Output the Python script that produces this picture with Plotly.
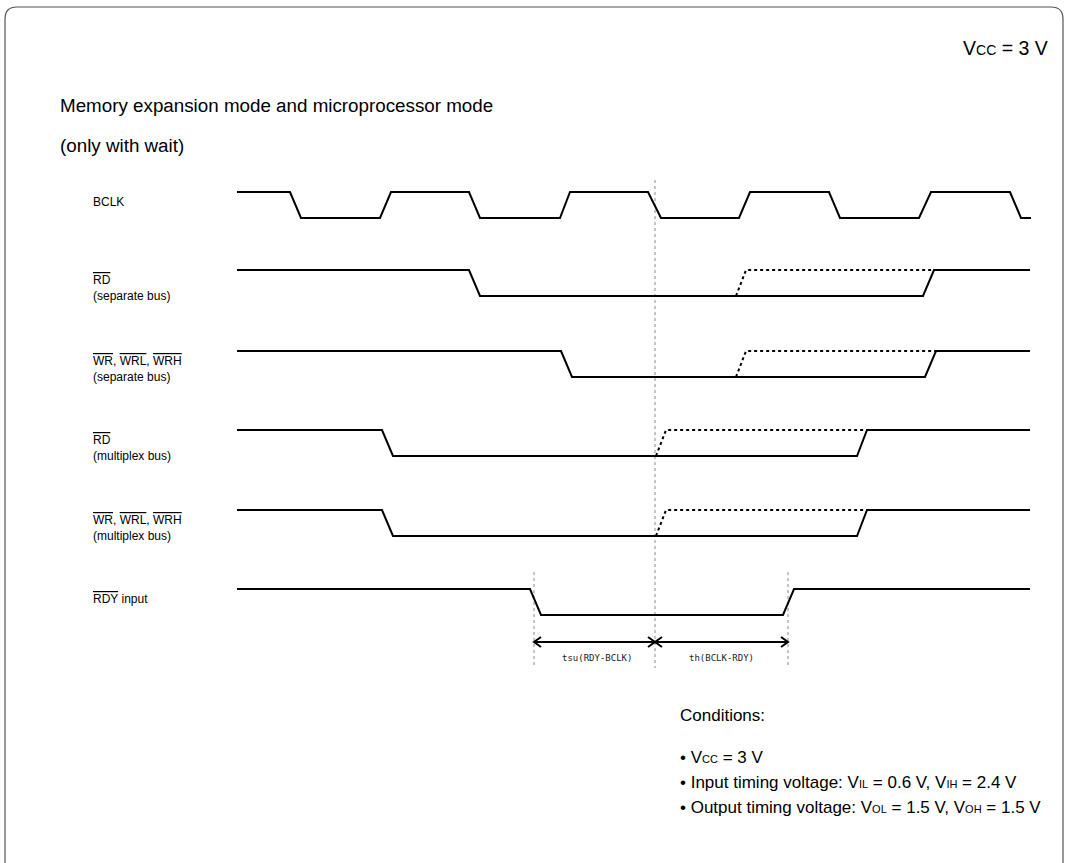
import plotly.graph_objects as go

# ---------------- data (time axis in arbitrary units) ----------------
signal_names = [
    "BCLK",
    "<span style='text-decoration:overline'>RD</span><br>(separate bus)",
    "<span style='text-decoration:overline'>WR</span>, <span style='text-decoration:overline'>WRL</span>, <span style='text-decoration:overline'>WRH</span><br>(separate bus)",
    "<span style='text-decoration:overline'>RD</span><br>(multiplex bus)",
    "<span style='text-decoration:overline'>WR</span>, <span style='text-decoration:overline'>WRL</span>, <span style='text-decoration:overline'>WRH</span><br>(multiplex bus)",
    "<span style='text-decoration:overline'>RDY</span> input",
]

bclk_t = [237, 290, 301, 380, 391, 469, 480, 560, 570, 648, 661, 739, 750, 829, 840, 919, 931, 1010, 1021, 1031]
bclk_v = [1, 1, 0, 0, 1, 1, 0, 0, 1, 1, 0, 0, 1, 1, 0, 0, 1, 1, 0, 0]

rd_sep_t = [237, 469, 480, 923, 934, 1030]
rd_sep_v = [1, 1, 0, 0, 1, 1]
rd_sep_alt_t = [736, 746, 934]
rd_sep_alt_v = [0, 1, 1]

wr_sep_t = [237, 561, 572, 925, 936, 1030]
wr_sep_v = [1, 1, 0, 0, 1, 1]
wr_sep_alt_t = [736, 746, 936]
wr_sep_alt_v = [0, 1, 1]

rd_mux_t = [237, 382, 393, 857, 867, 1030]
rd_mux_v = [1, 1, 0, 0, 1, 1]
rd_mux_alt_t = [656, 666, 867]
rd_mux_alt_v = [0, 1, 1]

wr_mux_t = [237, 382, 393, 857, 867, 1030]
wr_mux_v = [1, 1, 0, 0, 1, 1]
wr_mux_alt_t = [656, 666, 867]
wr_mux_alt_v = [0, 1, 1]

rdy_t = [237, 530, 541, 783, 794, 1030]
rdy_v = [1, 1, 0, 0, 1, 1]

# timing references
t_ref = 655        # BCLK falling edge reference
t_su_start = 534   # RDY falls
t_h_end = 788      # RDY rises
tsu_label = "tsu(RDY-BCLK)"
th_label = "th(BCLK-RDY)"

# ---------------- layout constants ----------------
W, H = 1069, 863
row_top = [192, 270, 351, 430, 510, 589]
swing = 26
label_x = 91

fig = go.Figure()

def level(vals, row):
    return [row_top[row] + (1 - v) * swing for v in vals]

solid = dict(color="black", width=2)
dotted = dict(color="black", width=2, dash="dot")

waves = [
    (bclk_t, bclk_v, None, None),
    (rd_sep_t, rd_sep_v, rd_sep_alt_t, rd_sep_alt_v),
    (wr_sep_t, wr_sep_v, wr_sep_alt_t, wr_sep_alt_v),
    (rd_mux_t, rd_mux_v, rd_mux_alt_t, rd_mux_alt_v),
    (wr_mux_t, wr_mux_v, wr_mux_alt_t, wr_mux_alt_v),
    (rdy_t, rdy_v, None, None),
]

# reference vertical dotted lines
grey = dict(color="#8a8a8a", width=1, dash="dot")
fig.add_trace(go.Scatter(x=[t_ref, t_ref], y=[180, 668], mode="lines", line=grey, hoverinfo="skip"))
for tt in (t_su_start, t_h_end):
    fig.add_trace(go.Scatter(x=[tt, tt], y=[572, 668], mode="lines", line=grey, hoverinfo="skip"))

for i, (t, v, at, av) in enumerate(waves):
    if at is not None:
        fig.add_trace(go.Scatter(x=at, y=level(av, i), mode="lines", line=dotted, hoverinfo="skip"))
    fig.add_trace(go.Scatter(x=t, y=level(v, i), mode="lines", line=solid, hoverinfo="skip"))

# signal labels
for i, name in enumerate(signal_names):
    fig.add_annotation(x=label_x, y=row_top[i] + 0.5, text=name, showarrow=False,
                       xanchor="left", yanchor="top", align="left",
                       font=dict(family="Liberation Sans, Arial", size=12, color="black"))

# measurement arrows
ay = 642
ah_w, ah_h = 7, 5
fig.add_trace(go.Scatter(x=[t_su_start, t_h_end], y=[ay, ay], mode="lines",
                         line=dict(color="black", width=2), hoverinfo="skip"))
for tip, d in [(t_su_start, 1), (t_ref, -1), (t_ref, 1), (t_h_end, -1)]:
    fig.add_trace(go.Scatter(x=[tip + d * ah_w, tip, tip + d * ah_w], y=[ay - ah_h, ay, ay + ah_h],
                             mode="lines", line=dict(color="black", width=2), hoverinfo="skip"))
mono = dict(family="DejaVu Sans Mono, Liberation Mono", size=9, color="#222")
fig.add_annotation(x=(t_su_start + t_ref) / 2 + 2, y=658, text=tsu_label, showarrow=False, font=mono)
fig.add_annotation(x=(t_ref + t_h_end) / 2, y=658, text=th_label, showarrow=False, font=mono)

# texts
title_font = dict(family="Liberation Sans, Arial", size=18.8, color="black")
cond_font = dict(family="Liberation Sans, Arial", size=17, color="black")
vcc_font = dict(family="Liberation Sans, Arial", size=19.5, color="black")
sub = "<span style='font-size:11px'>%s</span>"
sub_top = "<span style='font-size:14px'>%s</span>"
fig.add_annotation(x=1050, y=48, text="V" + sub_top % "CC" + " = 3 V", showarrow=False, xanchor="right", font=vcc_font)
fig.add_annotation(x=58, y=105, text="Memory expansion mode and microprocessor mode", showarrow=False, xanchor="left", font=title_font)
fig.add_annotation(x=58, y=145, text="(only with wait)", showarrow=False, xanchor="left", font=title_font)
fig.add_annotation(x=678, y=715, text="Conditions:", showarrow=False, xanchor="left", font=cond_font)
cond_lines = [
    "• V" + sub % "CC" + " = 3 V",
    "• Input timing voltage: V" + sub % "IL" + " = 0.6 V, V" + sub % "IH" + " = 2.4 V",
    "• Output timing voltage: V" + sub % "OL" + " = 1.5 V, V" + sub % "OH" + " = 1.5 V",
]
for k, line in enumerate(cond_lines):
    fig.add_annotation(x=678, y=757 + 25 * k, text=line, showarrow=False, xanchor="left", font=cond_font)

# frame (rounded rectangle)
x0, y0, x1, y1, r = 5, 7, 1063, 880, 12
path = (f"M {x0+r},{y0} L {x1-r},{y0} Q {x1},{y0} {x1},{y0+r} L {x1},{y1} "
        f"L {x0},{y1} L {x0},{y0+r} Q {x0},{y0} {x0+r},{y0} Z")
fig.add_shape(type="path", path=path, xref="x", yref="y", line=dict(color="#555", width=1.2))

fig.update_layout(
    width=W, height=H, margin=dict(l=0, r=0, t=0, b=0),
    showlegend=False, plot_bgcolor="white", paper_bgcolor="white",
    xaxis=dict(range=[0, W], visible=False, fixedrange=True),
    yaxis=dict(range=[H, 0], visible=False, fixedrange=True),
)

fig.write_html("out.html", config={"displayModeBar": False},
               post_script="document.body.style.margin='0';document.body.style.overflow='hidden';")
